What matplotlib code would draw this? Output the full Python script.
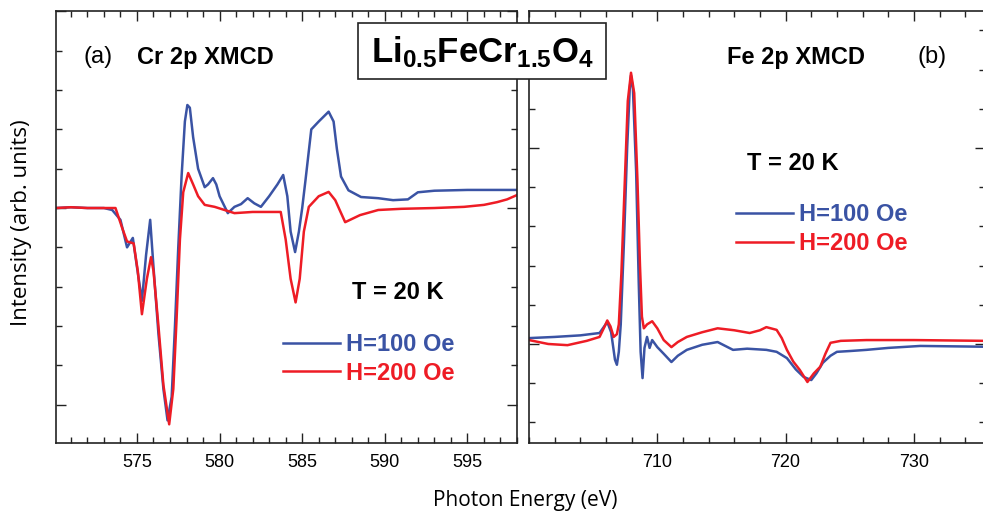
import matplotlib
matplotlib.use('Agg')
import matplotlib.pyplot as plt
from matplotlib.patches import Rectangle
from matplotlib.ticker import MultipleLocator, FixedLocator

plt.rcParams['mathtext.fontset'] = 'custom'
plt.rcParams['mathtext.bf'] = 'Liberation Sans:bold'
plt.rcParams['mathtext.rm'] = 'Liberation Sans'

# Cr 2p XMCD (panel a)
cr_e_100 = [570.1, 571.0, 572.0, 573.0, 573.5, 574.0, 574.4, 574.75, 575.0, 575.3, 575.55, 575.8,
            576.0, 576.3, 576.6, 576.85, 577.1, 577.3, 577.5, 577.7, 577.9, 578.05, 578.2, 578.4,
            578.7, 579.1, 579.3, 579.6, 579.8, 580.0, 580.5, 580.9, 581.3, 581.7, 582.1, 582.5,
            583.0, 583.5, 583.85, 584.1, 584.3, 584.57, 584.8, 585.0, 585.2, 585.55, 586.0, 586.6,
            586.9, 587.1, 587.35, 587.8, 588.56, 589.6, 590.5, 591.4, 592.0, 593.0, 595.0, 598.0]
cr_i_100 = [0.0, 0.02, 0.0, 0.0, -0.05, -0.3, -1.0, -0.76, -1.5, -2.36, -1.2, -0.3,
            -1.5, -3.2, -4.6, -5.4, -4.8, -3.0, -1.0, 0.8, 2.2, 2.62, 2.55, 1.8,
            1.0, 0.53, 0.6, 0.76, 0.6, 0.3, -0.13, 0.03, 0.1, 0.25, 0.12, 0.03,
            0.3, 0.6, 0.84, 0.3, -0.6, -1.12, -0.6, 0.0, 0.71, 2.0, 2.2, 2.45,
            2.2, 1.5, 0.8, 0.45, 0.28, 0.25, 0.2, 0.22, 0.4, 0.44, 0.46, 0.46]

cr_e_200 = [570.1, 571.0, 572.0, 573.0, 573.7, 574.1, 574.4, 574.8, 575.05, 575.3, 575.6, 575.85,
            576.0, 576.3, 576.6, 576.95, 577.2, 577.4, 577.6, 577.8, 578.1, 578.4, 578.7, 579.1,
            579.7, 580.9, 582.0, 583.0, 583.7, 584.0, 584.3, 584.6, 584.85, 585.1, 585.4, 586.0,
            586.6, 587.0, 587.6, 588.5, 589.6, 591.0, 593.0, 594.8, 596.0, 596.8, 597.4, 598.0]
cr_i_200 = [0.0, 0.02, 0.0, 0.0, 0.0, -0.5, -0.85, -0.9, -1.6, -2.7, -1.8, -1.25,
            -1.6, -3.0, -4.5, -5.5, -4.6, -2.8, -0.8, 0.4, 0.89, 0.6, 0.3, 0.08,
            0.03, -0.13, -0.1, -0.1, -0.1, -0.8, -1.8, -2.4, -1.8, -0.6, 0.03, 0.3,
            0.41, 0.2, -0.36, -0.18, -0.05, -0.02, 0.0, 0.03, 0.08, 0.15, 0.22, 0.33]

# Fe 2p XMCD (panel b)
fe_e_100 = [700.0, 702.0, 704.0, 705.5, 706.1, 706.4, 706.7, 706.85, 707.0, 707.15, 707.4, 707.65,
            707.85, 707.95, 708.1, 708.35, 708.55, 708.7, 708.85, 709.0, 709.2, 709.4, 709.6, 710.0,
            710.5, 711.1, 711.6, 712.3, 713.5, 714.7, 715.9, 717.0, 718.5, 719.3, 720.1, 720.8,
            721.4, 722.0, 722.4, 722.9, 723.5, 724.0, 725.0, 726.3, 728.0, 730.5, 735.5]
fe_i_100 = [0.15, 0.18, 0.22, 0.28, 0.56, 0.3, -0.4, -0.53, -0.2, 0.5, 2.6, 5.0,
            6.5, 6.85, 6.5, 4.4, 1.6, -0.2, -0.87, -0.1, 0.18, -0.1, 0.1, -0.08,
            -0.25, -0.46, -0.3, -0.15, -0.02, 0.05, -0.15, -0.12, -0.15, -0.2, -0.36, -0.65,
            -0.84, -0.92, -0.75, -0.48, -0.3, -0.2, -0.18, -0.15, -0.1, -0.05, -0.07]

fe_e_200 = [700.0, 701.5, 703.0, 704.5, 705.5, 705.9, 706.1, 706.35, 706.6, 706.85, 707.0, 707.2,
            707.45, 707.7, 707.95, 708.2, 708.45, 708.65, 708.8, 708.95, 709.2, 709.6, 710.0, 710.5,
            711.1, 711.6, 712.3, 713.5, 714.7, 716.0, 717.2, 718.0, 718.5, 719.3, 719.7, 720.1,
            720.6, 721.1, 721.7, 722.2, 722.7, 723.1, 723.5, 724.3, 726.3, 730.0, 735.5]
fe_i_200 = [0.1, 0.0, -0.03, 0.08, 0.18, 0.45, 0.6, 0.45, 0.18, 0.25, 0.5, 1.8,
            4.0, 6.2, 6.92, 6.4, 4.2, 2.0, 0.7, 0.4, 0.5, 0.58, 0.4, 0.1,
            -0.08, 0.05, 0.18, 0.3, 0.4, 0.35, 0.28, 0.35, 0.43, 0.36, 0.15, -0.15,
            -0.45, -0.66, -0.97, -0.75, -0.58, -0.25, 0.03, 0.08, 0.1, 0.1, 0.08]

labels = ['H=100 Oe', 'H=200 Oe']
colors = ['#3a53a4', '#ee1c25']

W, H = 983, 516
fig = plt.figure(figsize=(W / 100, H / 100), dpi=100)


def px_axes(x0, x1, y0, y1):
    return fig.add_axes([x0 / W, 1 - y1 / H, (x1 - x0) / W, (y1 - y0) / H])


ax1 = px_axes(56, 517, 11, 443)
ax2 = px_axes(529, 985, 11, 443)

ax1.plot(cr_e_100, cr_i_100, color=colors[0], lw=1.8, label=labels[0])
ax1.plot(cr_e_200, cr_i_200, color=colors[1], lw=1.8, label=labels[1])
ax2.plot(fe_e_100, fe_i_100, color=colors[0], lw=1.8, label=labels[0])
ax2.plot(fe_e_200, fe_i_200, color=colors[1], lw=1.8, label=labels[1])

ax1.set_xlim(570.1, 598.0)
ax1.set_ylim(-5.975, 5.01)
ax2.set_xlim(700.0, 735.54)
ax2.set_ylim(-2.526, 8.495)

ax1.xaxis.set_major_locator(FixedLocator([575, 580, 585, 590, 595]))
ax1.xaxis.set_minor_locator(MultipleLocator(1))
ax1.yaxis.set_major_locator(FixedLocator([-5, 0, 5]))
ax1.yaxis.set_minor_locator(MultipleLocator(1))
ax2.xaxis.set_major_locator(FixedLocator([710, 720, 730]))
ax2.xaxis.set_minor_locator(MultipleLocator(2))
ax2.yaxis.set_major_locator(FixedLocator([0, 5]))
ax2.yaxis.set_minor_locator(MultipleLocator(1))

for ax in (ax1, ax2):
    for s in ax.spines.values():
        s.set_color('#222222')
        s.set_linewidth(1.2)
    ax.tick_params(which='both', direction='in', top=True, right=True,
                   color='#222222', width=1.0)
    ax.tick_params(which='major', length=7, pad=8)
    ax.tick_params(which='minor', length=4)
    ax.set_yticklabels([])
    for lab in ax.get_xticklabels():
        lab.set_fontfamily('Liberation Sans')
        lab.set_fontsize(13)

bold = dict(family='Liberation Sans', fontweight='bold', fontsize=17)

ax1.text(0.0586, 0.8935, '(a)', transform=ax1.transAxes, family='Liberation Sans',
         fontsize=17, va='center', ha='left')
ax1.text(0.1757, 0.8935, 'Cr 2p XMCD', transform=ax1.transAxes, va='center', ha='left', **bold)
ax1.text(0.642, 0.3495, 'T = 20 K', transform=ax1.transAxes, va='center', ha='left', **bold)

ax2.text(0.434, 0.8935, 'Fe 2p XMCD', transform=ax2.transAxes, va='center', ha='left', **bold)
ax2.text(0.853, 0.8935, '(b)', transform=ax2.transAxes, family='Liberation Sans',
         fontsize=17, va='center', ha='left')
ax2.text(0.478, 0.648, 'T = 20 K', transform=ax2.transAxes, va='center', ha='left', **bold)

leg_prop = {'family': 'Liberation Sans', 'weight': 'bold', 'size': 17}
for ax, anchor in ((ax1, (0.4924, 0.255)), (ax2, (0.454, 0.555))):
    ax.legend(loc='upper left', bbox_to_anchor=anchor, frameon=False, prop=leg_prop,
              handlelength=2.4, handletextpad=0.25, labelspacing=0.25,
              borderpad=0, borderaxespad=0, labelcolor='linecolor')

fig.text(0.5346, 0.030, 'Photon Energy (eV)', family='Open Sans', fontsize=15,
         ha='center', va='center')
fig.text(0.0214, 0.568, 'Intensity (arb. units)', family='Open Sans', fontsize=16,
         rotation=90, ha='center', va='center')

fig.patches.append(Rectangle((358 / W, 1 - 79 / H), 248 / W, 56 / H, transform=fig.transFigure,
                             facecolor='white', edgecolor='#222222', lw=1.2, zorder=5))
fig.text(482 / W, 0.898, r'$\mathbf{Li_{0.5}FeCr_{1.5}O_{4}}$', fontsize=25,
         ha='center', va='center', zorder=6)

fig.savefig('out.png', dpi=100)
